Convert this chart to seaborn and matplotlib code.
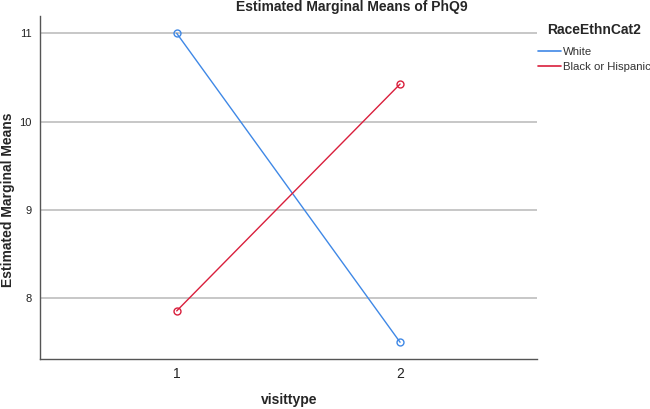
import matplotlib
matplotlib.use("Agg")
import matplotlib.pyplot as plt
import seaborn as sns
import pandas as pd
from matplotlib.lines import Line2D

visittype = [1, 2]
white = [11.0, 7.5]
black_hisp = [7.855, 10.425]
groups = ["White", "Black or Hispanic"]

df = pd.DataFrame({
    "visittype": visittype * 2,
    "mean": white + black_hisp,
    "RaceEthnCat2": [groups[0]] * 2 + [groups[1]] * 2,
})

sns.set_style("white")
plt.rcParams['font.family'] = ['Liberation Sans', 'DejaVu Sans']

fig = plt.figure(figsize=(6.5, 4.09), dpi=100)
ax = fig.add_axes([40/650, 1 - 359/409, (537-40)/650, (359-16)/409])

palette = {"White": "#3F88E6", "Black or Hispanic": "#D91F3C"}
sns.lineplot(data=df, x="visittype", y="mean", hue="RaceEthnCat2", palette=palette,
             marker="o", markersize=5, markerfacecolor="none", markeredgewidth=1.0,
             linewidth=1.0, ax=ax, legend=False)
for line in ax.lines:
    line.set_markeredgecolor(line.get_color())

ax.set_xlim(0.388, 2.613)
ax.set_ylim(7.31, 11.196)
ax.set_xticks(visittype)
ax.set_xticklabels([str(v) for v in visittype], fontsize=10, color="#222222")
ax.set_yticks([8, 9, 10, 11])
ax.set_yticklabels(["8", "9", "10", "11"], fontsize=8, color="#222222")
ax.tick_params(axis="both", length=0, pad=6)
ax.yaxis.grid(True, color="#BDBDBD", linewidth=1.2)
ax.set_axisbelow(True)
for s in ["top", "right"]:
    ax.spines[s].set_visible(False)
for s in ["left", "bottom"]:
    ax.spines[s].set_color("#555555")
    ax.spines[s].set_linewidth(1.0)

ax.set_xlabel("visittype", fontsize=10, fontweight="bold")
ax.xaxis.set_label_coords(289/650, 1 - 400/409, transform=fig.transFigure)
ax.xaxis.label.set_va("center")
ax.set_ylabel("Estimated Marginal Means", fontsize=10, fontweight="bold")
ax.yaxis.set_label_coords(8/650, 1 - 200/409, transform=fig.transFigure)
ax.yaxis.label.set_va("center")
fig.text(352/650, 1 - 7/409, "Estimated Marginal Means of PhQ9", ha="center", va="center",
         fontsize=10, fontweight="bold")

# legend outside right
fig.text(547/650, 1 - 30/409, "RaceEthnCat2", ha="left", va="center",
         fontsize=10, fontweight="bold")
handles = [Line2D([0], [0], color=palette[g], linewidth=1.2) for g in groups]
leg = fig.legend(handles, groups, loc="upper left", bbox_to_anchor=(538/650, 1 - 47/409),
                 frameon=False, fontsize=8.2, handlelength=2.0,
                 handletextpad=0.18, labelspacing=0.4,
                 borderaxespad=0, borderpad=0)
for t in leg.get_texts():
    t.set_color("#333333")

fig.savefig("out.png", dpi=100)
